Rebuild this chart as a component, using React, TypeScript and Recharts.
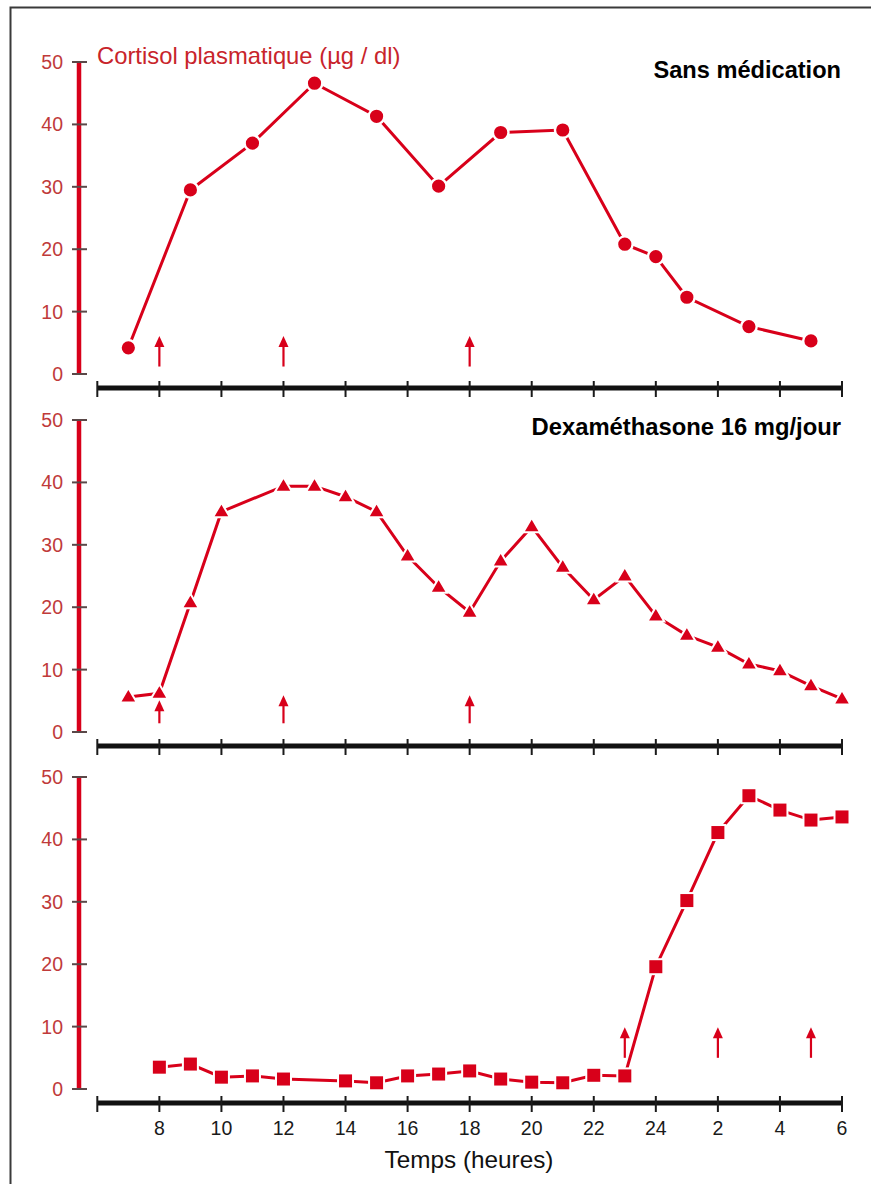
import React from 'react';
import { LineChart, Line, XAxis, YAxis, ReferenceLine } from 'recharts';

// ---- data ----
const hoursSans = [7, 9, 11, 13, 15, 17, 19, 21, 23, 24, 25, 27, 29];
const cortisolSans = [4.2, 29.5, 37.0, 46.6, 41.3, 30.1, 38.7, 39.1, 20.8, 18.8, 12.3, 7.6, 5.3];

const hoursDexa = [7, 8, 9, 10, 12, 13, 14, 15, 16, 17, 18, 19, 20, 21, 22, 23, 24, 25, 26, 27, 28, 29, 30];
const cortisolDexa = [5.6, 6.2, 20.7, 35.3, 39.4, 39.4, 37.7, 35.3, 28.2, 23.2, 19.2, 27.4, 32.9, 26.4, 21.2, 25.0, 18.6, 15.5, 13.6, 10.9, 9.8, 7.4, 5.3];

const hoursThird = [8, 9, 10, 11, 12, 14, 15, 16, 17, 18, 19, 20, 21, 22, 23, 24, 25, 26, 27, 28, 29, 30];
const cortisolThird = [3.5, 4.0, 1.9, 2.1, 1.6, 1.3, 1.0, 2.1, 2.4, 2.9, 1.6, 1.1, 1.0, 2.2, 2.1, 19.6, 30.2, 41.1, 47.0, 44.7, 43.1, 43.6];

const arrowTimesSans = [8, 12, 18];
const arrowLowSans = [1.2, 1.2, 1.2];
const arrowHighSans = [6.1, 6.1, 6.1];

const arrowTimesDexa = [8, 12, 18];
const arrowLowDexa = [1.4, 1.4, 1.4];
const arrowHighDexa = [5.1, 5.9, 5.9];

const arrowTimesThird = [23, 26, 29];
const arrowLowThird = [5.0, 5.0, 5.0];
const arrowHighThird = [9.9, 9.9, 9.9];

const xTicks = [6, 8, 10, 12, 14, 16, 18, 20, 22, 24, 26, 28, 30];
const yTicks = [0, 10, 20, 30, 40, 50];

const titleTop = 'Cortisol plasmatique (µg / dl)';
const titleSans = 'Sans médication';
const titleDexa = 'Dexaméthasone 16 mg/jour';
const xTitle = 'Temps (heures)';

// ---- style constants ----
const RED = '#d8001a';
const TICK_RED = '#c03a3a';
const FONT = '"Liberation Sans", Arial, Helvetica, sans-serif';
const X_MIN = 5.41;
const X_MAX = 30;
const Y_MIN = -2.24;
const Y_MAX = 50;

const toData = (hours: number[], vals: number[]) => hours.map((h, i) => ({ h, v: vals[i] }));

const circleDot = (p: any) =>
  p.cx == null ? null : (
    <circle key={`c${p.index}`} cx={p.cx} cy={p.cy} r={7.8} fill={RED} stroke="#ffffff" strokeWidth={2.4} />
  );
const triangleDot = (p: any) =>
  p.cx == null ? null : (
    <polygon
      key={`t${p.index}`}
      points={`${p.cx},${p.cy - 9} ${p.cx + 8.5},${p.cy + 5.5} ${p.cx - 8.5},${p.cy + 5.5}`}
      fill={RED}
      stroke="#ffffff"
      strokeWidth={2}
      strokeLinejoin="miter"
    />
  );
const squareDot = (p: any) =>
  p.cx == null ? null : (
    <rect key={`s${p.index}`} x={p.cx - 7.5} y={p.cy - 7.5} width={15} height={15} fill={RED} stroke="#ffffff" strokeWidth={2} />
  );

const arrowShape = (p: any) => {
  const { x1, y1, x2, y2 } = p;
  return (
    <g>
      <line x1={x1} y1={y1} x2={x2} y2={y2 + 8} stroke={RED} strokeWidth={2.2} />
      <polygon points={`${x2},${y2} ${x2 + 5},${y2 + 11} ${x2 - 5},${y2 + 11}`} fill={RED} />
    </g>
  );
};

const xLabel = (v: number) => (v > 24 ? v - 24 : v);

const XTick = (props: any) => {
  const { x, y, payload, showLabel } = props;
  return (
    <g>
      <line x1={x} x2={x} y1={y - 7} y2={y + 9} stroke="#1a1a1a" strokeWidth={2} />
      {showLabel && payload.value !== 6 ? (
        <text x={x} y={y + 32} textAnchor="middle" fontSize={19.5} fill="#1a1a1a" fontFamily={FONT}>
          {xLabel(payload.value)}
        </text>
      ) : null}
    </g>
  );
};

const YTick = (props: any) => {
  const { x, y, payload } = props;
  return (
    <g>
      <line x1={x - 7} x2={x + 8} y1={y} y2={y} stroke="#5a4848" strokeWidth={2} />
      <text x={x - 16} y={y + 7} textAnchor="end" fontSize={19.5} fill={TICK_RED} fontFamily={FONT}>
        {payload.value}
      </text>
    </g>
  );
};

type PanelProps = {
  top: number;
  hours: number[];
  values: number[];
  dot: any;
  arrowTimes: number[];
  arrowLow: number[];
  arrowHigh: number[];
  showLabels: boolean;
  axisHeight: number;
};

const Panel = ({ top, hours, values, dot, arrowTimes, arrowLow, arrowHigh, showLabels, axisHeight }: PanelProps) => {
  const data = toData(hours, values);
  const height = 20 + 326 + axisHeight;
  return (
    <div style={{ position: 'absolute', left: 0, top, width: 871, height }}>
      <LineChart width={871} height={height} data={data} margin={{ top: 20, right: 29, bottom: 0, left: 19 }}>
        <XAxis
          dataKey="h"
          type="number"
          domain={[X_MIN, X_MAX]}
          ticks={xTicks}
          interval={0}
          axisLine={false}
          tickLine={false}
          tickSize={0}
          tickMargin={0}
          height={axisHeight}
          tick={(p: any) => <XTick {...p} showLabel={showLabels} />}
        />
        <YAxis
          type="number"
          domain={[Y_MIN, Y_MAX]}
          ticks={yTicks}
          interval={0}
          width={60}
          axisLine={false}
          tickLine={false}
          tickSize={0}
          tickMargin={0}
          tick={(p: any) => <YTick {...p} />}
        />
        <ReferenceLine
          segment={[{ x: 6, y: Y_MIN }, { x: 30, y: Y_MIN }]}
          stroke="#111111"
          strokeWidth={5}
          ifOverflow="visible"
        />
        <ReferenceLine
          segment={[{ x: X_MIN, y: 0 }, { x: X_MIN, y: 50 }]}
          stroke={RED}
          strokeWidth={4.5}
          ifOverflow="visible"
        />
        {arrowTimes.map((t, i) => (
          <ReferenceLine
            key={`a${i}`}
            segment={[{ x: t, y: arrowLow[i] }, { x: t, y: arrowHigh[i] }]}
            stroke={RED}
            ifOverflow="visible"
            shape={arrowShape}
          />
        ))}
        <Line
          dataKey="v"
          type="linear"
          stroke={RED}
          strokeWidth={3}
          dot={dot}
          activeDot={false}
          isAnimationActive={false}
        />
      </LineChart>
    </div>
  );
};

export default function App() {
  return (
    <div
      style={{
        position: 'absolute',
        left: 0,
        top: 0,
        width: 871,
        height: 1184,
        background: '#ffffff',
        overflow: 'hidden',
        fontFamily: FONT,
      }}
    >
      <Panel
        top={42}
        hours={hoursSans}
        values={cortisolSans}
        dot={circleDot}
        arrowTimes={arrowTimesSans}
        arrowLow={arrowLowSans}
        arrowHigh={arrowHighSans}
        showLabels={false}
        axisHeight={14}
      />
      <Panel
        top={400}
        hours={hoursDexa}
        values={cortisolDexa}
        dot={triangleDot}
        arrowTimes={arrowTimesDexa}
        arrowLow={arrowLowDexa}
        arrowHigh={arrowHighDexa}
        showLabels={false}
        axisHeight={14}
      />
      <Panel
        top={757}
        hours={hoursThird}
        values={cortisolThird}
        dot={squareDot}
        arrowTimes={arrowTimesThird}
        arrowLow={arrowLowThird}
        arrowHigh={arrowHighThird}
        showLabels={true}
        axisHeight={60}
      />
      <svg
        width={871}
        height={1184}
        style={{ position: 'absolute', left: 0, top: 0, pointerEvents: 'none' }}
      >
        <path d="M10.5,1184 L10.5,7.5 L871,7.5" fill="none" stroke="#3a3a3a" strokeWidth={2} />
        <text x={97} y={64} fontSize={23.8} fill="#c8242b" fontFamily={FONT}>
          {titleTop}
        </text>
        <text x={841} y={78} fontSize={23.6} fontWeight="bold" textAnchor="end" fill="#000" fontFamily={FONT}>
          {titleSans}
        </text>
        <text x={841} y={435} fontSize={23.8} fontWeight="bold" textAnchor="end" fill="#000" fontFamily={FONT}>
          {titleDexa}
        </text>
        <text x={469} y={1168} fontSize={24.3} textAnchor="middle" fill="#111" fontFamily={FONT}>
          {xTitle}
        </text>
      </svg>
    </div>
  );
}
